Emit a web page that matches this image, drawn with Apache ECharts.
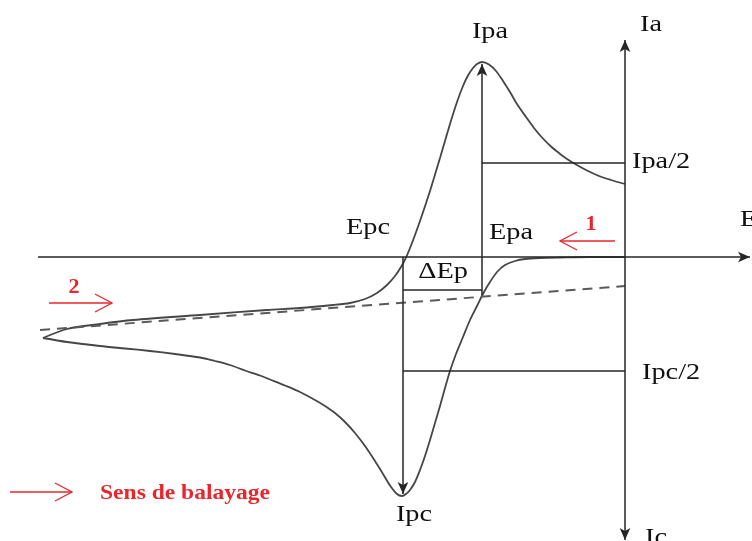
<!DOCTYPE html>
<html>
<head>
<meta charset="utf-8">
<script src="https://cdn.jsdelivr.net/npm/echarts@6/dist/echarts.min.js"></script>
<style>
  html, body { margin: 0; padding: 0; background: #fff; }
  #chart { width: 752px; height: 541px; }
</style>
</head>
<body>
<div id="chart"></div>
<script>
'use strict';

// potential E and current I (arbitrary units, origin at the axes crossing)
const forwardE = [0, -35, -65, -85, -100, -110, -120, -128, -135, -141, -148, -155, -162, -169, -175, -180, -185, -190, -195, -200, -205, -210, -215, -219, -223, -228, -235, -242, -250, -260, -270, -280, -290, -300, -310, -325, -340, -355, -365, -380, -395, -410, -425, -450, -475, -500, -525, -558, -582];
const forwardI = [0, 0, -0.5, -1, -2, -4, -8, -15, -25, -35, -49, -63, -80, -97, -114, -131, -149, -166, -183, -199, -213, -225, -233, -237, -239, -237, -228.5, -217, -204, -189, -176, -165, -156, -149, -143, -135, -128.5, -122.5, -118.5, -113.5, -108, -104, -100.5, -97, -94, -91.5, -89, -85, -81];

const returnE = [-582, -558, -525, -492, -425, -358, -325, -292, -275, -260, -248, -238, -230, -224, -219, -213, -205, -195, -185, -175, -168, -162, -157, -152, -148, -143, -136, -129, -122, -115, -108, -99, -91, -83, -74, -66, -58, -49, -38, -26, -14, 0];
const returnI = [-81, -72, -67, -63, -58, -53, -51, -48, -46, -42, -36, -28, -19, -10, -0.5, 14, 36, 66, 99, 133, 155, 171, 181.5, 189, 193, 195, 192.5, 186, 176, 165, 153, 140, 129, 119.5, 110.5, 104, 98, 92.5, 86.5, 81, 77, 73];

// capacitive baseline (dashed)
const baselineE = [-585, 0];
const baselineI = [-73, -29];

// characteristic values
const Epa = -143, Epc = -222;
const Ipa = 195, Ipc = -239;
const IpaHalf = 94, IpcHalf = -114;
const dEpLevel = -33;

// axes extent
const axisE = [-587, 125];
const axisI = [-283, 217];

function zip(xs, ys) {
  let out = [];
  for (let i = 0; i < xs.length; i++) out.push([xs[i], ys[i]]);
  return out;
}

const CURVE = '#464646';
const INK = '#262626';
const RED = '#e8262b';
const SERIF = '"Liberation Serif", "DejaVu Serif", serif';

function seg(a, b, s0, s1) {
  return [{coord: a, symbol: s0 || 'none'}, {coord: b, symbol: s1 || 'none'}];
}

function label(text, x, y, opt) {
  opt = opt || {};
  return {
    type: 'text', x: x, y: y, scaleX: opt.scaleX || 1.18, silent: true,
    style: {
      text: text,
      font: (opt.weight || 'normal') + ' ' + (opt.size || 24) + 'px ' + SERIF,
      fill: opt.color || '#111',
      textAlign: opt.align || 'center',
      textVerticalAlign: 'middle'
    }
  };
}

function redArrow(x0, x1, y, dir) {
  const tip = dir > 0 ? x1 : x0;
  const back = tip - dir * 17;
  return [
    {type: 'line', silent: true, shape: {x1: x0, y1: y, x2: x1, y2: y}, style: {stroke: RED, lineWidth: 1.3}},
    {type: 'polyline', silent: true, shape: {points: [[back, y - 9], [tip, y], [back, y + 9]]}, style: {stroke: RED, lineWidth: 1.3, fill: null}}
  ];
}

const chart = echarts.init(document.getElementById('chart'));

const option = {
  animation: false,
  backgroundColor: '#fff',
  grid: {left: 0, right: 0, top: 0, bottom: 0},
  xAxis: {type: 'value', min: -625, max: 127, show: false},
  yAxis: {type: 'value', min: -284, max: 257, show: false},
  series: [
    {
      type: 'line', name: 'aller', data: zip(forwardE, forwardI),
      smooth: 0.3, showSymbol: false, silent: true,
      lineStyle: {color: CURVE, width: 1.8}
    },
    {
      type: 'line', name: 'retour', data: zip(returnE, returnI),
      smooth: 0.3, showSymbol: false, silent: true,
      lineStyle: {color: CURVE, width: 1.8}
    },
    {
      type: 'line', name: 'ligne de base', data: zip(baselineE, baselineI),
      showSymbol: false, silent: true,
      lineStyle: {color: '#5a5a5a', width: 2, type: [10, 7]}
    },
    {
      type: 'line', data: [], silent: true,
      markLine: {
        silent: true,
        animation: false,
        symbolSize: [8, 12],
        label: {show: false},
        lineStyle: {color: INK, width: 1.5, type: 'solid'},
        emphasis: {disabled: true},
        data: [
          seg([axisE[0], 0], [axisE[1], 0], 'none', 'arrow'),
          seg([0, axisI[0]], [0, axisI[1]], 'arrow', 'arrow'),
          seg([Epa, IpaHalf], [0, IpaHalf]),
          seg([Epc, IpcHalf], [0, IpcHalf]),
          seg([Epc, dEpLevel], [Epa, dEpLevel]),
          seg([Epa, -38], [Epa, Ipa - 2], 'none', 'arrow'),
          seg([Epc, 0], [Epc, Ipc + 2], 'none', 'arrow')
        ]
      }
    }
  ],
  graphic: [
    label('Ia', 651, 25),
    label('Ipa', 490, 32),
    label('Ipa/2', 632, 162, {align: 'left'}),
    label('E', 740, 220, {align: 'left'}),
    label('Epc', 368, 228),
    label('Epa', 511, 233),
    label('\u0394Ep', 443, 272),
    label('Ipc/2', 642, 373, {align: 'left'}),
    label('Ipc', 414, 515),
    label('Ic', 645, 538, {align: 'left'}),
    label('1', 591, 224, {color: RED, weight: 'bold', size: 22, scaleX: 1}),
    label('2', 74, 287, {color: RED, weight: 'bold', size: 22, scaleX: 1}),
    label('Sens de balayage', 100, 493, {color: RED, weight: 'bold', size: 22, align: 'left', scaleX: 1.07})
  ].concat(redArrow(560, 615, 241, -1), redArrow(49, 112, 303, 1), redArrow(10, 72, 492, 1))
};

chart.setOption(option);
</script>
</body>
</html>
